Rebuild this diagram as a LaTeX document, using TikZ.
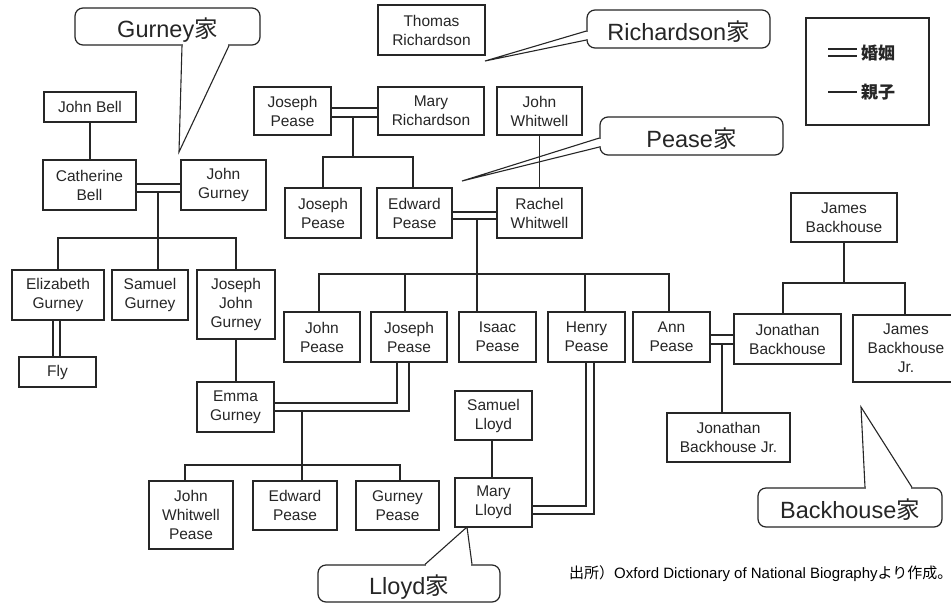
\documentclass[tikz,border=0pt]{standalone}
\usepackage{fontspec}
\setmainfont{Liberation Sans}
\newfontfamily\jpfont{Noto Sans CJK JP}
\definecolor{ink}{gray}{0.15}
\tikzset{
  person/.style={draw=ink, line width=1.2pt, fill=white, align=center, inner sep=0pt,
    text=ink, font=\fontsize{15.5}{19}\selectfont},
  pbox/.style 2 args={person, minimum width=#1pt, minimum height=#2pt},
  rel/.style={draw=ink, line width=1.1pt},
  bubble/.style={draw=ink, line width=1.2pt, fill=white, rounded corners=8pt, inner sep=0pt,
    text height=24pt, text depth=1.2pt, text=ink, font=\fontsize{23.5}{26}\selectfont},
  eraser/.style={draw=white, line width=2.6pt},
  legendtext/.style={inner sep=0pt, text=ink, font=\fontsize{17}{19}\selectfont\jpfont\bfseries},
}
\begin{document}
\begin{tikzpicture}[x=1pt, y=-1pt]
\useasboundingbox[fill=white] (0,0) rectangle (951,603);

% ---------- people ----------
\node[pbox={92}{30}]  (johnbell)    at (90,107)     {John Bell};
\node[pbox={93}{50}]  (catherine)   at (89.5,185)   {Catherine\\Bell};
\node[pbox={85}{50}]  (johngurney)  at (223.5,185)  {John\\Gurney};
\node[pbox={107}{50}] (thomas)      at (431.5,30)   {Thomas\\Richardson};
\node[pbox={77}{48}]  (josephA)     at (292.5,111)  {Joseph\\Pease};
\node[pbox={106}{48}] (maryR)       at (431,111)    {Mary\\Richardson};
\node[pbox={85}{48}]  (johnW)       at (539.5,111)  {John\\Whitwell};
\node[pbox={76}{50}]  (josephB)     at (323,213)    {Joseph\\Pease};
\node[pbox={75}{50}]  (edwardA)     at (414.5,213)  {Edward\\Pease};
\node[pbox={85}{50}]  (rachelW)     at (539.5,213)  {Rachel\\Whitwell};
\node[pbox={92}{50}]  (elizabethG)  at (58,295)     {Elizabeth\\Gurney};
\node[pbox={76}{50}]  (samuelG)     at (150,295)    {Samuel\\Gurney};
\node[pbox={78}{69}]  (josephJG)    at (236,304.5)  {Joseph\\John\\Gurney};
\node[pbox={77}{30}]  (fly)         at (57.5,372)   {Fly};
\node[pbox={76}{50}]  (johnP)       at (322,337)    {John\\Pease};
\node[pbox={76}{50}]  (josephC)     at (409,337)    {Joseph\\Pease};
\node[pbox={77}{50}]  (isaacP)      at (497.5,337)  {Isaac\\Pease};
\node[pbox={77}{50}]  (henryP)      at (586.5,337)  {Henry\\Pease};
\node[pbox={77}{50}]  (annP)        at (671.5,337)  {Ann\\Pease};
\node[pbox={107}{50}] (jonathanB)   at (787.5,339)  {Jonathan\\Backhouse};
\node[pbox={106}{67}] (jamesBJr)    at (906,348.5)  {James\\Backhouse\\Jr.};
\node[pbox={106}{49}] (jamesB)      at (844,217.5)  {James\\Backhouse};
\node[pbox={123}{49}] (jonathanBJr) at (728.5,437.5){Jonathan\\Backhouse Jr.};
\node[pbox={77}{50}]  (emma)        at (235.5,407)  {Emma\\Gurney};
\node[pbox={77}{49}]  (samuelL)     at (493.5,415.5){Samuel\\Lloyd};
\node[pbox={77}{49}]  (maryL)       at (493.5,502.5){Mary\\Lloyd};
\node[pbox={84}{68}]  (johnWP)      at (191,515)    {John\\Whitwell\\Pease};
\node[pbox={84}{49}]  (edwardB)     at (295,505.5)  {Edward\\Pease};
\node[pbox={83}{49}]  (gurneyP)     at (397.5,505.5){Gurney\\Pease};

% ---------- Bell / Gurney ----------
\draw[rel] (johnbell.south) -- (johnbell.south |- catherine.north);
\draw[rel] (catherine.east |- 0,184) -- (johngurney.west |- 0,184);
\draw[rel] (catherine.east |- 0,192) -- (johngurney.west |- 0,192);
\coordinate (gurneyKids) at (158,192);
\draw[rel] (gurneyKids) -- (gurneyKids |- samuelG.north);
\draw[rel] (elizabethG.north) -- (elizabethG.north |- 0,238) -- (josephJG.north |- 0,238) -- (josephJG.north);
\draw[rel] (elizabethG.south -| 53,0) -- (fly.north -| 53,0);
\draw[rel] (elizabethG.south -| 60,0) -- (fly.north -| 60,0);
\draw[rel] (josephJG.south) -- (josephJG.south |- emma.north);

% ---------- Pease / Richardson / Whitwell ----------
\draw[rel] (josephA.east |- 0,108) -- (maryR.west |- 0,108);
\draw[rel] (josephA.east |- 0,117) -- (maryR.west |- 0,117);
\coordinate (peaseA) at (353,117);
\draw[rel] (peaseA) -- (peaseA |- 0,157);
\draw[rel] (josephB.north) -- (josephB.north |- 0,157) -- (413,157) -- (edwardA.north -| 413,0);
\draw[rel] (johnW.south) -- (johnW.south |- rachelW.north);
\draw[rel] (edwardA.east |- 0,212) -- (rachelW.west |- 0,212);
\draw[rel] (edwardA.east |- 0,219) -- (rachelW.west |- 0,219);
\coordinate (peaseB) at (477,219);
\draw[rel] (peaseB) -- (peaseB |- isaacP.north);
\draw[rel] (johnP.north -| 319,0) -- (319,274) -- (669,274) -- (annP.north -| 669,0);
\draw[rel] (405,274) -- (josephC.north -| 405,0);
\draw[rel] (585,274) -- (henryP.north -| 585,0);

% ---------- Joseph Pease + Emma Gurney ----------
\draw[rel] (josephC.south -| 397,0) -- (397,403) -- (emma.east |- 0,403);
\draw[rel] (josephC.south -| 409,0) -- (409,411) -- (emma.east |- 0,411);
\coordinate (peaseC) at (302,411);
\draw[rel] (peaseC) -- (peaseC |- edwardB.north);
\draw[rel] (johnWP.north -| 185,0) -- (185,465) -- (400,465) -- (gurneyP.north -| 400,0);

% ---------- Lloyd ----------
\draw[rel] (samuelL.south -| 492,0) -- (maryL.north -| 492,0);
\draw[rel] (henryP.south -| 586,0) -- (586,506) -- (maryL.east |- 0,506);
\draw[rel] (henryP.south -| 594,0) -- (594,514) -- (maryL.east |- 0,514);

% ---------- Backhouse ----------
\draw[rel] (annP.east |- 0,335) -- (jonathanB.west |- 0,335);
\draw[rel] (annP.east |- 0,344) -- (jonathanB.west |- 0,344);
\coordinate (bhKids) at (722,344);
\draw[rel] (bhKids) -- (bhKids |- jonathanBJr.north);
\draw[rel] (jamesB.south) -- (jamesB.south |- 0,283);
\draw[rel] (jonathanB.north -| 783,0) -- (783,283) -- (905,283) -- (jamesBJr.north -| 905,0);

% ---------- family callouts ----------
\node[bubble, minimum width=185pt, minimum height=37pt] (gurneyC) at (167.5,26.5) {Gurney{\jpfont 家}};
\coordinate (gurneyTip) at (179,152);
\draw[eraser] (gurneyC.south -| 183,0) -- (gurneyC.south -| 228,0);
\draw[rel] (gurneyC.south -| 182,0) -- (gurneyTip) -- (gurneyC.south -| 229,0);

\node[bubble, minimum width=183pt, minimum height=38pt] (richC) at (678.5,29) {Richardson{\jpfont 家}};
\coordinate (richTip) at (485,61);
\draw[eraser] (richC.west |- 0,32) -- (richC.west |- 0,39);
\draw[rel] (richC.west |- 0,31) -- (richTip) -- (richC.west |- 0,40);

\node[bubble, minimum width=183pt, minimum height=38pt] (peaseCall) at (691.5,136) {Pease{\jpfont 家}};
\coordinate (peaseTip) at (462,181);
\draw[eraser] (peaseCall.west |- 0,139) -- (peaseCall.west |- 0,146);
\draw[rel] (peaseCall.west |- 0,138) -- (peaseTip) -- (peaseCall.west |- 0,147);

\node[bubble, minimum width=184pt, minimum height=39pt] (backC) at (850,507.5) {Backhouse{\jpfont 家}};
\coordinate (backTip) at (861,407);
\draw[eraser] (backC.north -| 866,0) -- (backC.north -| 911,0);
\draw[rel] (backC.north -| 865,0) -- (backTip) -- (backC.north -| 912,0);

\node[bubble, minimum width=182pt, minimum height=37pt] (lloydC) at (409,583.5) {Lloyd{\jpfont 家}};
\coordinate (lloydTip) at (467,527);
\draw[eraser] (lloydC.north -| 426,0) -- (lloydC.north -| 471,0);
\draw[rel] (lloydC.north -| 425,0) -- (lloydTip) -- (lloydC.north -| 472,0);

% ---------- legend ----------
\node[draw=ink, line width=1.2pt, minimum width=123pt, minimum height=107pt, inner sep=0pt] (legend) at (867.5,71.5) {};
\draw[rel] (828,49) -- (857,49);
\draw[rel] (828,56) -- (857,56);
\node[legendtext, anchor=west] (lgMarriage) at (861,53) {婚姻};
\draw[rel] (828,92) -- (857,92);
\node[legendtext, anchor=west] (lgParent) at (861,92) {親子};

% ---------- source ----------
\node[anchor=west, inner sep=0pt, text=black, font=\fontsize{15}{17}\selectfont] (source) at (569,574)
  {{\jpfont 出所）}Oxford Dictionary of National Biography{\jpfont より作成。}};
\end{tikzpicture}
\end{document}
